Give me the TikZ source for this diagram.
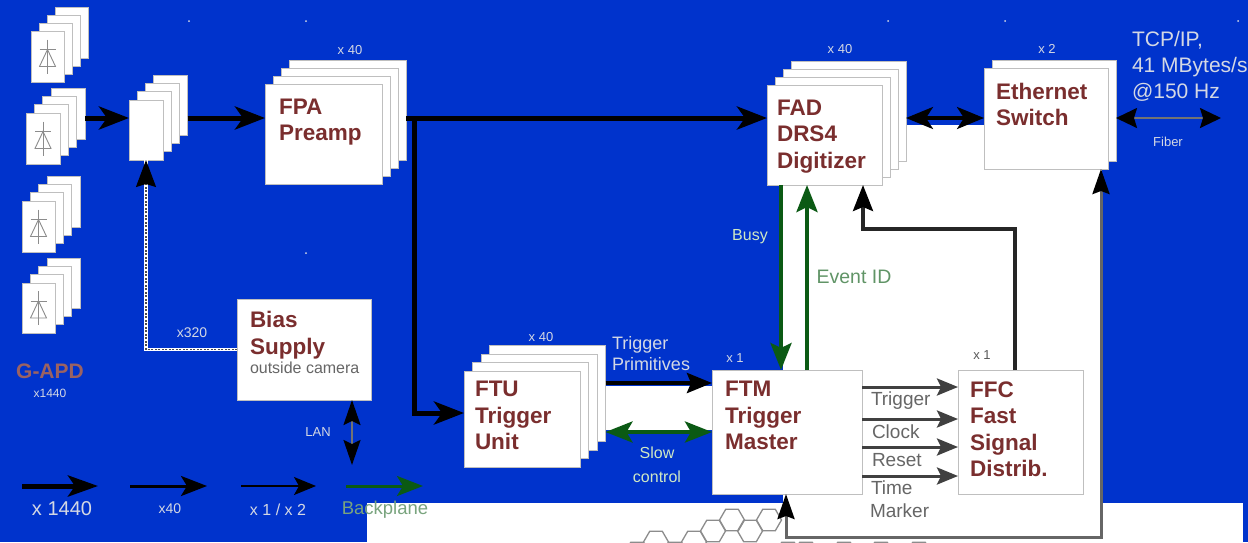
\documentclass[tikz,border=0pt]{standalone}
\usepackage{fontspec}
\setmainfont{Liberation Sans}
\usetikzlibrary{arrows.meta,calc}
\definecolor{bg}{HTML}{0033CC}
\definecolor{maroon}{HTML}{7A2E2E}
\definecolor{gr}{HTML}{0B5A14}
\definecolor{lgt}{HTML}{D4D8E4}
\definecolor{lgreen}{HTML}{CFE8C4}
\tikzset{
  every node/.style={inner sep=0pt,outer sep=0pt},
  layer/.style={fill=white,draw=black!25,line width=.8pt},
  title/.style={anchor=west,align=left,text=maroon,font=\fontsize{22.5}{26.5}\selectfont\bfseries},
  tag/.style={text=lgt,font=\fontsize{13}{15}\selectfont},
  sig/.style={text=black!60,font=\fontsize{19}{22}\selectfont},
  bigtip/.style={-{Stealth[length=30pt,width=23pt,inset=8pt]}},
  bigboth/.style={{Stealth[length=27pt,width=22pt,inset=7pt]}-{Stealth[length=27pt,width=22pt,inset=7pt]}},
  heavy/.style={line width=5pt,black},
  green line/.style={line width=4pt,gr},
  green tip/.style={-{Stealth[length=27pt,width=21pt,inset=5pt]}},
  green both/.style={{Stealth[length=27pt,width=21pt,inset=6pt]}-{Stealth[length=27pt,width=21pt,inset=6pt]}},
  fast/.style={line width=3pt,black!75,-{Stealth[length=21pt,width=17pt,inset=4pt]}},
  hexa/.style={draw=black!45,line width=1.3pt},
}
% \layerstack{name}{left}{top}{width}{height}{layers}{offset}: the front layer is <name>0
\newcommand{\layerstack}[7]{%
  \pgfmathtruncatemacro{\lastlayer}{#6-1}%
  \foreach \i in {\lastlayer,...,0}{%
    \node[layer,minimum width=#4pt,minimum height=#5pt] (#1\i)
      at ({#2+#4/2+\i*#7},{#3+#5/2-\i*#7}) {};
  }%
}
\newcommand{\diodeicon}[1]{%
  \begin{scope}[shift={(#1.center)},black!45,line width=.9pt]
    \draw (0,-17) -- (0,17);
    \draw (-8,-7) -- (8,-7);
    \draw (0,-7) -- (-8,10) -- (8,10) -- cycle;
  \end{scope}%
}
\newcommand{\hexcell}[2]{%
  \draw[hexa] ({#1+12.5},#2) -- ({#1+6.25},{#2+10.8}) -- ({#1-6.25},{#2+10.8}) -- ({#1-12.5},#2)
    -- ({#1-6.25},{#2-10.8}) -- ({#1+6.25},{#2-10.8}) -- cycle;%
}
\begin{document}
\begin{tikzpicture}[x=1pt,y=-1pt]
\useasboundingbox (0,0) rectangle (1248,542);
\fill[bg] (0,0) rectangle (1248,542);
% white panels
\fill[white] (367,503) rectangle (1243,542);
\fill[white] (783,125) rectangle (1102,537);
\fill[white] (606,386) rectangle (712,430);
% hexagons
\begin{scope}
  \clip (367,503) rectangle (1243,542);
  \foreach \cx/\cy in {732/520,769/520,713/531,750/531,694/542,656/542,
                       675/553,637/553,788/553,806/553,844/553,881/553,919/553}{\hexcell{\cx}{\cy}}
\end{scope}
\fill[white] (783,495) rectangle (1102,536);
% specks
\foreach \px/\py in {189/21,306/21,306/253,888/21,1005/21,1238/21}{\fill[lgt] (\px,\py) circle (1pt);}
% boxes
\layerstack{apda}{31}{31}{33}{51}{4}{8}
\layerstack{apdb}{26}{113}{34}{51}{4}{8.3}
\layerstack{apdc}{22}{201}{33}{51}{4}{8.3}
\layerstack{apdd}{22}{283}{33}{50}{4}{8.3}
\layerstack{mid}{129}{100}{34}{60}{4}{8.2}
\layerstack{fpa}{265}{84}{117}{100}{4}{8}
\layerstack{fad}{767}{85}{115}{100}{4}{8}
\layerstack{eth}{984}{68}{124}{101}{2}{8}
\layerstack{ftu}{464}{371}{116}{96}{4}{8.5}
\node[layer,minimum width=150pt,minimum height=124pt] (ftm) at (787,432) {};
\node[layer,minimum width=125pt,minimum height=124pt] (ffc) at (1020.5,432) {};
\node[layer,minimum width=134pt,minimum height=101pt] (bias) at (304,349.5) {};
\diodeicon{apda0}\diodeicon{apdb0}\diodeicon{apdc0}\diodeicon{apdd0}
% box titles
\node[title] (tfpa) at (279,122) {FPA\\Preamp};
\node[title] (tfad) at (777,136.5) {FAD\\DRS4\\Digitizer};
\node[title] (teth) at (996,104.5) {Ethernet\\Switch};
\node[title] (tftu) at (475,415.5) {FTU\\Trigger\\Unit};
\node[title] (tftm) at (725,415.5) {FTM\\Trigger\\Master};
\node[title] (tffc) at (970,429) {FFC\\Fast\\Signal\\Distrib.};
\node[title] (tbias) at (250,335) {Bias\\Supply};
\node[anchor=west,text=black!60,font=\fontsize{16}{18}\selectfont] (tout) at (250,368) {outside camera};
% free ends and routing rows/columns
\coordinate (fiberend) at (1221,118);
\coordinate (lanend) at (352,465);
\coordinate (l1a) at (22,486); \coordinate (l1b) at (98,486);
\coordinate (l2a) at (130,486); \coordinate (l2b) at (207,486);
\coordinate (l3a) at (241,486); \coordinate (l3b) at (316,486);
\coordinate (l4a) at (346,486); \coordinate (l4b) at (423,486);
\coordinate (split) at (414,118);
\coordinate (ftuin) at (414,413);
\coordinate (busyx) at (781,185);
\coordinate (evtx) at (807,370);
\coordinate (rowp) at (606,383);
\coordinate (rows) at (606,432);
\coordinate (r1) at (0,387);
\coordinate (r2) at (0,419);
\coordinate (r3) at (0,447);
\coordinate (r4) at (0,476);
\coordinate (retur) at (1101,537);
\coordinate (retul) at (786,537);
\coordinate (ffcup) at (1015,229);
\coordinate (fadup) at (863,229);
% heavy signal path
\draw[heavy,bigtip] (apdb3.east |- split) -- (mid0.west |- split);
\draw[heavy,bigtip] (mid3.east |- split) -- (fpa0.west |- split);
\draw[heavy,bigtip] (fpa3.east |- split) -- (fad0.west |- split);
\draw[heavy,bigtip] (split) -- (ftuin) -- (ftu0.west |- ftuin);
% ethernet links
\draw[line width=3.5pt,black,bigboth] (fad3.east |- split) -- (eth0.west |- split);
\draw[line width=2pt,black!55,{Stealth[length=21pt,width=20pt,inset=3pt,black]}-{Stealth[length=21pt,width=20pt,inset=3pt,black]}] (eth1.east |- split) -- (fiberend);
% bias
\draw[white,line width=3.5pt] (bias.west) -- (mid0.south |- bias.west) -- (mid0.south);
\draw[black!70,line width=1.6pt,dash pattern=on 2pt off 1.5pt,-{Stealth[length=27pt,width=20pt,inset=3pt,black]}] (bias.west) -- (mid0.south |- bias.west) -- (mid0.south);
\draw[line width=2pt,black!55,{Stealth[length=25pt,width=17pt,inset=4pt,black]}-{Stealth[length=25pt,width=17pt,inset=4pt,black]}] (bias.south -| lanend) -- (lanend);
% FAD / FTM
\draw[green line,green tip] (fad0.south -| busyx) -- (ftm.north -| busyx);
\draw[green line,green tip] (ftm.north -| evtx) -- (fad0.south -| evtx);
\draw[line width=3.5pt,black!85,-{Stealth[length=26pt,width=20pt,inset=4pt,black]}] (ffc.north -| ffcup) -- (ffcup) -- (fadup) -- (fad0.south -| fadup);
% FTU / FTM
\draw[line width=4pt,black,-{Stealth[length=25pt,width=20pt,inset=4pt]}] (ftu3.east |- rowp) -- (ftm.west |- rowp);
\draw[green line,green both] (ftu3.east |- rows) -- (ftm.west |- rows);
% FTM / FFC
\draw[fast] (ftm.east |- r1) -- (ffc.west |- r1);
\draw[fast] (ftm.east |- r2) -- (ffc.west |- r2);
\draw[fast] (ftm.east |- r3) -- (ffc.west |- r3);
\draw[fast] (ftm.east |- r4) -- (ffc.west |- r4);
% return line
\draw[line width=3pt,black!60,{Stealth[length=25pt,width=17pt,inset=3pt,black]}-{Stealth[length=25pt,width=17pt,inset=3pt,black]}] (ftm.south -| retul) -- (retul) -- (retur) -- (eth0.south -| retur);
% legend
\draw[line width=5pt,black,-{Stealth[length=30pt,width=21pt,inset=7pt]}] (l1a) -- (l1b);
\draw[line width=3pt,black,-{Stealth[length=26pt,width=20pt,inset=6pt]}] (l2a) -- (l2b);
\draw[line width=1.5pt,black,-{Stealth[length=22pt,width=18pt,inset=5pt]}] (l3a) -- (l3b);
\draw[line width=3pt,gr,-{Stealth[length=26pt,width=20pt,inset=6pt]}] (l4a) -- (l4b);
% labels
\node[tag] (x1) at (350,50) {x 40};
\node[tag] (x2) at (840,49) {x 40};
\node[tag] (x3) at (1047,49) {x 2};
\node[tag] (x4) at (541,337) {x 40};
\node[tag] (x5) at (735,358) {x 1};
\node[tag,text=black!65] (x6) at (982,355) {x 1};
\node[tag,font=\fontsize{14}{16}\selectfont] (x7) at (192,333) {x320};
\node[tag] (xlan) at (318,432) {LAN};
\node[tag] (xfib) at (1168,142) {Fiber};
\node[anchor=west,align=left,text=lgt,font=\fontsize{21}{26}\selectfont] (tcp) at (1132,66) {TCP/IP,\\41 MBytes/s\\@150 Hz};
\node[text=lgt,font=\fontsize{18}{21}\selectfont,anchor=west,align=left] (tprim) at (612,354) {Trigger\\Primitives};
\node[text=lgreen,font=\fontsize{16}{24}\selectfont,align=center] (tslow) at (657,465) {Slow\\control};
\node[text=lgreen,font=\fontsize{16}{18}\selectfont] (tbusy) at (750,237) {Busy};
\node[text=gr!65!white,font=\fontsize{19.5}{22}\selectfont] (tevt) at (854,277) {Event ID};
\node[sig,anchor=west] (s1) at (871,401) {Trigger};
\node[sig,anchor=west] (s2) at (872,432) {Clock};
\node[sig,anchor=west] (s3) at (872,460) {Reset};
\node[sig,anchor=west] (s4) at (871,488) {Time};
\node[sig,anchor=west] (s5) at (870,511) {Marker};
\node[text=maroon!75!white,font=\fontsize{21}{24}\selectfont\bfseries] (gapd) at (50,371) {G-APD};
\node[tag,font=\fontsize{12}{14}\selectfont] (gn) at (50,393) {x1440};
\node[text=lgt,font=\fontsize{20}{22}\selectfont] (k1) at (62,509) {x 1440};
\node[text=lgt,font=\fontsize{14}{16}\selectfont] (k2) at (170,509) {x40};
\node[text=lgt,font=\fontsize{16}{18}\selectfont] (k3) at (278,510) {x 1 / x 2};
\node[text=gr!55!white,font=\fontsize{18.5}{21}\selectfont] (k4) at (385,510) {Backplane};
\end{tikzpicture}
\end{document}
